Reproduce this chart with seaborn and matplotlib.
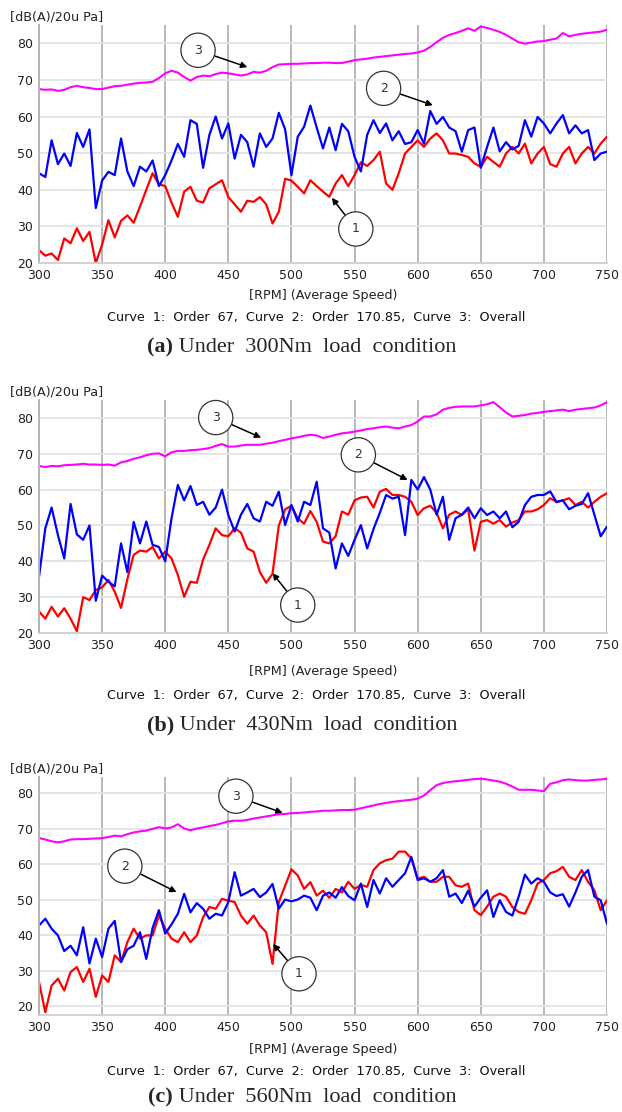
import matplotlib
matplotlib.use("Agg")
import matplotlib.pyplot as plt
from matplotlib.offsetbox import TextArea, HPacker, AnnotationBbox
import seaborn as sns

# Shaft speed grid [RPM]
RPM = list(range(300, 755, 5))

# ---- (a) 300 Nm ----
overall_300 = [
    67.5, 67.3, 67.4, 67.0, 67.3, 68.0, 68.4, 68.0, 67.8, 67.5,
    67.5, 67.9, 68.3, 68.4, 68.7, 69.0, 69.2, 69.3, 69.5, 70.5,
    71.8, 72.5, 72.0, 70.8, 69.8, 70.8, 71.2, 71.0, 71.6, 72.0,
    71.8, 71.5, 71.2, 71.5, 72.2, 72.0, 72.5, 73.5, 74.2, 74.3,
    74.4, 74.4, 74.5, 74.6, 74.6, 74.7, 74.7, 74.6, 74.6, 75.0,
    75.4, 75.6, 75.8, 76.1, 76.3, 76.5, 76.7, 76.9, 77.1, 77.2,
    77.5, 78.0, 79.0, 80.3, 81.5, 82.3, 82.8, 83.4, 84.1, 83.4,
    84.6, 84.2, 83.7, 83.1, 82.3, 81.3, 80.3, 79.9, 80.2, 80.5,
    80.6, 81.0, 81.3, 82.8, 81.9, 82.3, 82.6, 82.8, 83.0, 83.2,
    83.7]
order170_300 = [
    44.5, 43.5, 53.5, 47.0, 49.9, 46.5, 55.5, 51.7, 56.5, 35.0,
    42.5, 44.9, 44.0, 54.0, 45.0, 41.0, 46.3, 45.0, 48.0, 41.0,
    44.0, 48.0, 52.5, 49.0, 59.0, 58.0, 46.0, 55.0, 60.0, 54.0,
    58.1, 48.5, 55.0, 53.0, 46.3, 55.4, 51.7, 54.0, 61.0, 56.5,
    44.0, 54.5, 57.2, 63.0, 57.0, 51.3, 57.0, 50.8, 58.0, 56.0,
    49.0, 45.0, 55.0, 59.0, 55.5, 58.1, 53.5, 56.0, 52.5, 53.0,
    56.3, 52.6, 61.5, 58.0, 59.9, 57.0, 56.0, 50.4, 56.3, 57.0,
    46.0, 51.7, 57.0, 50.5, 53.0, 51.0, 52.0, 59.0, 54.5, 59.9,
    58.1, 55.4, 58.1, 60.4, 55.4, 57.6, 55.4, 56.3, 48.1, 49.9,
    50.4]
order67_300 = [
    23.5, 22.0, 22.6, 20.8, 26.7, 25.4, 29.5, 26.0, 28.5, 20.0,
    25.0, 31.7, 27.0, 31.5, 33.0, 31.0, 35.4, 40.0, 44.5, 41.5,
    41.0, 36.5, 32.6, 39.5, 40.8, 37.0, 36.5, 40.4, 41.5, 42.6,
    38.0, 36.0, 34.0, 37.0, 36.7, 38.0, 36.0, 30.8, 34.0, 43.0,
    42.5, 40.8, 39.0, 42.6, 41.0, 39.5, 38.1, 41.7, 44.0, 41.0,
    44.0, 47.5, 46.5, 48.1, 50.4, 41.7, 40.0, 44.5, 49.9, 51.7,
    53.5, 51.7, 54.0, 55.4, 53.5, 49.9, 49.9, 49.5, 49.0, 47.2,
    46.3, 49.0, 47.6, 46.3, 49.9, 51.7, 49.9, 52.6, 47.2, 49.9,
    51.7, 47.0, 46.3, 49.9, 51.7, 47.2, 49.9, 51.7, 49.9, 52.6,
    54.5]

# ---- (b) 430 Nm ----
overall_430 = [
    66.6, 66.3, 66.6, 66.5, 66.8, 66.9, 67.0, 67.2, 67.0, 67.0,
    66.9, 67.0, 66.7, 67.6, 68.0, 68.6, 69.0, 69.6, 70.0, 70.1,
    69.3, 70.4, 70.8, 70.8, 71.0, 71.1, 71.3, 71.6, 72.2, 72.7,
    72.0, 72.0, 72.3, 72.5, 72.5, 72.5, 72.8, 73.1, 73.5, 73.9,
    74.3, 74.6, 75.0, 75.3, 75.1, 74.4, 74.8, 75.3, 75.7, 75.9,
    76.2, 76.5, 76.9, 77.1, 77.4, 77.6, 77.3, 77.1, 77.6, 78.0,
    79.0, 80.4, 80.4, 81.0, 82.3, 82.8, 83.1, 83.2, 83.2, 83.2,
    83.5, 83.8, 84.4, 83.0, 81.5, 80.4, 80.6, 80.8, 81.2, 81.4,
    81.7, 81.9, 82.1, 82.3, 81.9, 82.3, 82.5, 82.7, 82.9, 83.5,
    84.4]
order170_430 = [
    35.7, 49.2, 55.0, 47.3, 40.8, 56.0, 47.5, 46.0, 50.0, 29.0,
    36.0, 34.3, 33.0, 45.0, 37.0, 51.0, 45.0, 51.1, 44.6, 44.0,
    40.0, 52.0, 61.3, 57.0, 61.0, 55.7, 56.6, 53.0, 55.0, 60.0,
    52.9, 48.3, 53.0, 56.0, 52.0, 51.1, 56.6, 55.5, 59.4, 50.1,
    55.7, 51.1, 56.6, 55.7, 62.2, 49.2, 48.0, 38.0, 45.0, 41.5,
    46.0, 50.1, 43.6, 49.0, 53.5, 58.5, 57.5, 58.0, 47.3, 62.7,
    60.0, 63.5, 60.0, 53.0, 58.0, 46.0, 52.0, 53.0, 55.0, 52.0,
    54.8, 52.9, 53.9, 52.0, 53.9, 49.5, 51.0, 55.7, 58.0, 58.5,
    58.5, 59.5, 56.5, 57.0, 54.5, 55.5, 56.0, 59.0, 53.0, 47.0,
    49.7]
order67_430 = [
    26.0, 24.0, 27.3, 24.6, 26.9, 24.0, 20.5, 30.0, 29.2, 32.0,
    32.7, 34.8, 31.5, 27.0, 35.0, 41.8, 43.0, 42.7, 44.0, 40.8,
    42.7, 40.8, 36.2, 30.1, 34.3, 34.0, 40.5, 44.6, 49.2, 47.3,
    47.0, 49.2, 48.0, 43.6, 42.7, 37.0, 34.0, 36.5, 50.0, 54.5,
    55.5, 52.0, 50.5, 54.0, 51.0, 45.5, 45.0, 47.0, 53.9, 53.0,
    57.0, 57.8, 58.0, 55.0, 59.4, 60.2, 58.5, 58.5, 58.0, 56.6,
    52.9, 54.8, 55.5, 53.5, 49.2, 53.0, 53.9, 52.9, 54.5, 43.0,
    51.0, 51.5, 50.5, 51.5, 49.7, 50.8, 51.5, 53.9, 53.9, 54.5,
    55.7, 57.6, 56.6, 57.0, 57.6, 55.7, 56.6, 55.0, 56.6, 58.0,
    59.0]

# ---- (c) 560 Nm ----
overall_560 = [
    67.3, 66.9, 66.4, 66.1, 66.4, 66.9, 67.0, 67.0, 67.1, 67.2,
    67.3, 67.6, 68.0, 67.8, 68.4, 68.9, 69.2, 69.4, 69.9, 70.4,
    70.0, 70.3, 71.2, 70.0, 69.5, 70.0, 70.3, 70.7, 71.0, 71.5,
    72.0, 72.2, 72.2, 72.4, 72.8, 73.1, 73.4, 73.7, 74.0, 74.1,
    74.3, 74.4, 74.5, 74.7, 74.8, 75.0, 75.0, 75.1, 75.2, 75.2,
    75.3, 75.7, 76.1, 76.5, 76.9, 77.2, 77.5, 77.7, 77.9, 78.1,
    78.4, 79.3, 80.8, 82.2, 82.8, 83.1, 83.3, 83.5, 83.7, 83.9,
    84.0, 83.8, 83.5, 83.2, 82.6, 81.8, 80.9, 80.9, 80.9, 80.7,
    80.5, 82.6, 83.0, 83.6, 83.8, 83.6, 83.5, 83.5, 83.7, 83.8,
    84.0]
order170_560 = [
    42.7, 44.6, 41.8, 39.9, 35.5, 37.0, 34.3, 42.2, 32.0, 39.0,
    33.8, 41.8, 44.0, 32.4, 36.0, 37.0, 40.8, 33.3, 42.0, 47.0,
    40.4, 43.0, 46.0, 51.6, 46.4, 49.0, 47.4, 44.6, 46.0, 45.5,
    49.3, 57.7, 51.1, 52.0, 53.0, 50.7, 52.0, 54.4, 47.4, 50.0,
    49.5, 50.0, 51.1, 50.5, 47.0, 51.1, 52.0, 50.5, 53.5, 51.0,
    49.8, 54.5, 47.9, 55.5, 51.7, 56.0, 53.6, 55.5, 57.4, 62.0,
    55.5, 56.0, 55.0, 56.0, 58.3, 50.8, 51.7, 49.0, 52.5, 48.0,
    50.5, 52.6, 45.1, 49.8, 46.5, 45.5, 50.8, 57.0, 54.5, 56.0,
    55.0, 52.0, 51.0, 51.5, 48.0, 52.0, 56.4, 58.3, 50.8, 49.8,
    43.2]
order67_560 = [
    26.8, 18.3, 25.8, 27.7, 24.4, 29.6, 31.0, 26.8, 30.5, 22.6,
    28.6, 26.8, 34.3, 32.4, 38.0, 41.8, 39.0, 39.9, 39.9, 45.5,
    41.8, 39.0, 38.0, 40.8, 38.0, 39.9, 45.0, 47.9, 47.4, 50.2,
    49.7, 49.3, 45.5, 43.2, 45.5, 42.7, 40.8, 31.9, 49.3, 53.9,
    58.5, 56.8, 53.0, 54.9, 51.1, 52.5, 50.5, 53.0, 52.0, 55.0,
    53.0, 54.1, 53.6, 58.3, 60.2, 61.1, 61.5, 63.5, 63.5, 61.6,
    55.9, 56.4, 55.0, 55.0, 56.4, 56.4, 54.0, 53.6, 54.5, 47.0,
    45.6, 48.0, 50.8, 51.7, 50.8, 47.9, 46.5, 46.0, 49.8, 54.5,
    55.5, 57.4, 58.0, 59.2, 56.4, 55.5, 58.3, 55.0, 52.6, 47.0,
    49.8]

X_TICKS = [300, 350, 400, 450, 500, 550, 600, 650, 700, 750]
Y_TICKS = [20, 30, 40, 50, 60, 70, 80]
Y_UNIT = "[dB(A)/20u Pa]"
X_LABEL = "[RPM] (Average Speed)"
CURVE_NOTE = "Curve  1:  Order  67,  Curve  2:  Order  170.85,  Curve  3:  Overall"

# callout markers: label, arrow tip (rpm, dB), circle centre (rpm, dB)
panels = [
    dict(tag="(a)", caption=" Under  300Nm  load  condition",
         overall=overall_300, o170=order170_300, o67=order67_300,
         ylim=(20, 85), box=(39, 25, 607, 263),
         unit_y=17, xlabel_y=295, note_y=317, cap_y=347,
         callouts=[("3", (465, 73.5), (426, 78.1)),
                   ("2", (612, 63.1), (573, 67.7)),
                   ("1", (532, 37.8), (551, 29.3))]),
    dict(tag="(b)", caption=" Under  430Nm  load  condition",
         overall=overall_430, o170=order170_430, o67=order67_430,
         ylim=(20, 85), box=(39, 400, 607, 633),
         unit_y=392, xlabel_y=672, note_y=695, cap_y=725,
         callouts=[("3", (476, 74.5), (440, 80.1)),
                   ("2", (592, 62.7), (553, 69.7)),
                   ("1", (485, 36.7), (505, 27.8))]),
    dict(tag="(c)", caption=" Under  560Nm  load  condition",
         overall=overall_560, o170=order170_560, o67=order67_560,
         ylim=(17.5, 84.5), box=(39, 777, 607, 1015),
         unit_y=769, xlabel_y=1050, note_y=1071, cap_y=1097,
         callouts=[("3", (493, 74.4), (456, 79.1)),
                   ("2", (409, 52.1), (368, 59.4)),
                   ("1", (485.5, 37.5), (506, 29.1))]),
]

sns.set_style("white")
plt.rcParams["font.family"] = ["DejaVu Sans"]

W, H = 622, 1112
fig = plt.figure(figsize=(W / 100, H / 100), dpi=100)

VGRID = "#b2b2b2"
HGRID = "#e3e3e3"

for p in panels:
    l, t, r, b = p["box"]
    ax = fig.add_axes([l / W, 1 - b / H, (r - l) / W, (b - t) / H])

    sns.lineplot(x=RPM, y=p["overall"], color="#ff00ff", lw=1.5, ax=ax)
    sns.lineplot(x=RPM, y=p["o67"], color="#ff0000", lw=1.6, ax=ax)
    sns.lineplot(x=RPM, y=p["o170"], color="#0000ff", lw=1.6, ax=ax)

    ax.set_xlim(300, 750)
    ax.set_ylim(*p["ylim"])
    ax.set_xticks(X_TICKS)
    ax.set_yticks(Y_TICKS)
    ax.set_xlabel("")
    ax.set_ylabel("")
    ax.xaxis.grid(True, color=VGRID, lw=1.3)
    ax.yaxis.grid(True, color=HGRID, lw=1.3)
    ax.set_axisbelow(True)
    for s in ("top", "right"):
        ax.spines[s].set_visible(False)
    ax.spines["left"].set_color(VGRID)
    ax.spines["left"].set_linewidth(1.3)
    ax.spines["bottom"].set_color("#cfcfcf")
    ax.spines["bottom"].set_linewidth(1.3)
    ax.tick_params(axis="both", length=3, width=0.8, color="#8a8a8a",
                   labelsize=9, labelcolor="#222222", pad=1.5)

    for num, tip, centre in p["callouts"]:
        ax.annotate(num, xy=tip, xytext=centre, ha="center", va="center",
                    fontsize=9, color="#333333",
                    bbox=dict(boxstyle="circle,pad=0.85", fc="white",
                              ec="#333333", lw=0.9),
                    arrowprops=dict(arrowstyle="-|>", color="black", lw=1.1,
                                    mutation_scale=9, shrinkA=0, shrinkB=0),
                    annotation_clip=False)

    fig.text(10 / W, 1 - p["unit_y"] / H, Y_UNIT, ha="left", va="center",
             fontsize=9.2, color="#222222")
    fig.text(323 / W, 1 - p["xlabel_y"] / H, X_LABEL, ha="center",
             va="center", fontsize=9.2, color="#222222")
    fig.text(316 / W, 1 - p["note_y"] / H, CURVE_NOTE, ha="center",
             va="center", fontsize=9.2, color="#111111")

    cap = HPacker(children=[
        TextArea(p["tag"], textprops=dict(family="Liberation Serif",
                                          weight="bold", fontsize=16)),
        TextArea(p["caption"], textprops=dict(family="Liberation Serif",
                                              fontsize=16))],
        align="baseline", pad=0, sep=0)
    fig.add_artist(AnnotationBbox(cap, (302 / W, 1 - p["cap_y"] / H),
                                  xycoords="figure fraction",
                                  box_alignment=(0.5, 0.5), frameon=False))

fig.savefig("out.png", dpi=100)
